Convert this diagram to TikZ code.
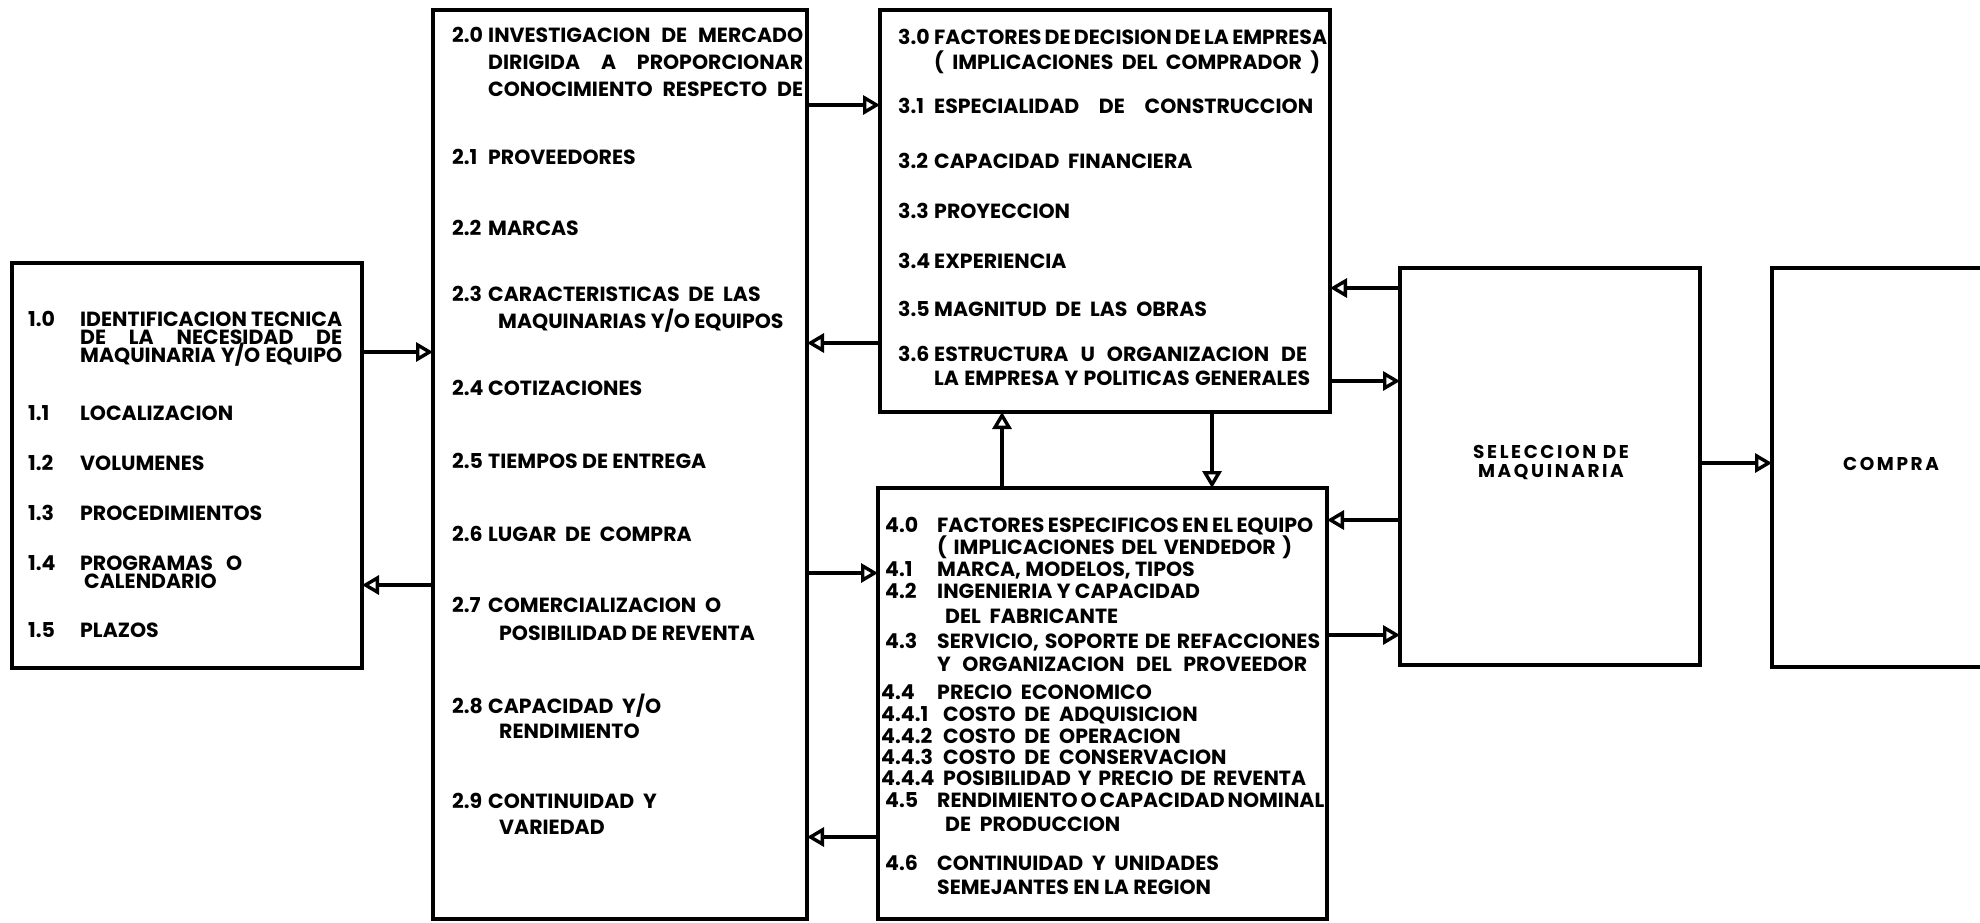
\documentclass[tikz,border=0pt]{standalone}
\usepackage{fontspec}
\setmainfont{Poppins}
\usetikzlibrary{arrows.meta}
\newcommand\justw[2]{\makebox[#1pt][s]{#2}}
\begin{document}
\begin{tikzpicture}[x=1pt,y=-1pt,
  box/.style={draw, line width=4pt, inner sep=0pt, outer sep=0pt},
  lbl/.style={anchor=base west, inner sep=0pt, font=\fontsize{20.5}{22}\selectfont\bfseries},
  ctr/.style={anchor=base, inner sep=0pt, font=\fontsize{18.5}{22}\selectfont\bfseries\addfontfeatures{LetterSpace=14}},
  arr/.style={line width=3.4pt, -{Triangle[open, length=17pt, width=19pt, line width=3.4pt]}}
]
\useasboundingbox (0,0) rectangle (1980,922);
\clip (0,0) rectangle (1980,922);

% boxes
\node[box, minimum width=350pt, minimum height=405pt] (b1) at (187,465.5) {};
\node[box, minimum width=374pt, minimum height=909pt] (b2) at (620,464.5) {};
\node[box, minimum width=450pt, minimum height=402pt] (b3) at (1105,211) {};
\node[box, minimum width=449pt, minimum height=431pt] (b4) at (1102.5,703.5) {};
\node[box, minimum width=300pt, minimum height=397pt] (b5) at (1550,466.5) {};
\node[box, minimum width=268pt, minimum height=399pt] (b6) at (1906,467.5) {};

% box 1 text
\node[lbl] (n10) at (28,326) {1.0};
\node[lbl] (t10) at (80,326) {\justw{262}{IDENTIFICACION TECNICA}};
\node[lbl] (t10b) at (80,344) {\justw{262}{DE LA NECESIDAD DE}};
\node[lbl] (t10c) at (80,362) {\justw{262}{MAQUINARIA Y/O EQUIPO}};
\node[lbl] (n11) at (28,420) {1.1};
\node[lbl] (t11) at (80,420) {LOCALIZACION};
\node[lbl] (n12) at (28,470) {1.2};
\node[lbl] (t12) at (80,470) {VOLUMENES};
\node[lbl] (n13) at (28,520) {1.3};
\node[lbl] (t13) at (80,520) {PROCEDIMIENTOS};
\node[lbl] (n14) at (28,570) {1.4};
\node[lbl] (t14) at (80,570) {PROGRAMAS\ \ \ O};
\node[lbl] (t14b) at (84,588) {CALENDARIO};
\node[lbl] (n15) at (28,637) {1.5};
\node[lbl] (t15) at (80,637) {PLAZOS};

% box 2 text
\node[lbl] (n20) at (452,42) {2.0};
\node[lbl] (t20) at (488,42) {\justw{315}{INVESTIGACION DE MERCADO}};
\node[lbl] (t20b) at (488,69) {\justw{315}{DIRIGIDA A PROPORCIONAR}};
\node[lbl] (t20c) at (488,96) {\justw{315}{CONOCIMIENTO RESPECTO DE}};
\node[lbl] (n21) at (452,164) {2.1};
\node[lbl] (t21) at (488,164) {PROVEEDORES};
\node[lbl] (n22) at (452,235) {2.2};
\node[lbl] (t22) at (488,235) {MARCAS};
\node[lbl] (n23) at (452,301) {2.3};
\node[lbl] (t23) at (488,301) {CARACTERISTICAS\ \ DE\ \ LAS};
\node[lbl] (t23b) at (498,328) {MAQUINARIAS Y/O EQUIPOS};
\node[lbl] (n24) at (452,395) {2.4};
\node[lbl] (t24) at (488,395) {COTIZACIONES};
\node[lbl] (n25) at (452,468) {2.5};
\node[lbl] (t25) at (488,468) {TIEMPOS DE ENTREGA};
\node[lbl] (n26) at (452,541) {2.6};
\node[lbl] (t26) at (488,541) {LUGAR\ \ DE\ \ COMPRA};
\node[lbl] (n27) at (452,612) {2.7};
\node[lbl] (t27) at (488,612) {COMERCIALIZACION\ \ O};
\node[lbl] (t27b) at (499,640) {POSIBILIDAD DE REVENTA};
\node[lbl] (n28) at (452,713) {2.8};
\node[lbl] (t28) at (488,713) {CAPACIDAD\ \ Y/O};
\node[lbl] (t28b) at (499,738) {RENDIMIENTO};
\node[lbl] (n29) at (452,808) {2.9};
\node[lbl] (t29) at (488,808) {CONTINUIDAD\ \ Y};
\node[lbl] (t29b) at (499,834) {VARIEDAD};

% box 3 text
\node[lbl] (n30) at (898,44) {3.0};
\node[lbl] (t30) at (934,44) {\justw{393}{FACTORES DE DECISION DE LA EMPRESA}};
\node[lbl] (t30b) at (934,69) {\justw{386}{( IMPLICACIONES DEL COMPRADOR )}};
\node[lbl] (n31) at (898,113) {3.1};
\node[lbl] (t31) at (934,113) {\justw{379}{ESPECIALIDAD DE CONSTRUCCION}};
\node[lbl] (n32) at (898,168) {3.2};
\node[lbl] (t32) at (934,168) {CAPACIDAD\ \ FINANCIERA};
\node[lbl] (n33) at (898,218) {3.3};
\node[lbl] (t33) at (934,218) {PROYECCION};
\node[lbl] (n34) at (898,268) {3.4};
\node[lbl] (t34) at (934,268) {EXPERIENCIA};
\node[lbl] (n35) at (898,316) {3.5};
\node[lbl] (t35) at (934,316) {MAGNITUD\ \ DE\ \ LAS\ \ OBRAS};
\node[lbl] (n36) at (898,361) {3.6};
\node[lbl] (t36) at (934,361) {\justw{373}{ESTRUCTURA U ORGANIZACION DE}};
\node[lbl] (t36b) at (934,385) {\justw{376}{LA EMPRESA Y POLITICAS GENERALES}};

% box 4 text
\node[lbl] (n40) at (885,532) {4.0};
\node[lbl] (t40) at (937,532) {\justw{376}{FACTORES ESPECIFICOS EN EL EQUIPO}};
\node[lbl] (t40b) at (937,554) {\justw{355}{( IMPLICACIONES DEL VENDEDOR )}};
\node[lbl] (n41) at (885,576) {4.1};
\node[lbl] (t41) at (937,576) {MARCA, MODELOS, TIPOS};
\node[lbl] (n42) at (885,598) {4.2};
\node[lbl] (t42) at (937,598) {INGENIERIA Y CAPACIDAD};
\node[lbl] (t42b) at (945,623) {DEL\ \ FABRICANTE};
\node[lbl] (n43) at (885,648) {4.3};
\node[lbl] (t43) at (937,648) {\justw{383}{SERVICIO, SOPORTE DE REFACCIONES}};
\node[lbl] (t43b) at (937,671) {\justw{370}{Y ORGANIZACION DEL PROVEEDOR}};
\node[lbl] (n44) at (881,699) {4.4};
\node[lbl] (t44) at (937,699) {PRECIO\ \ ECONOMICO};
\node[lbl] (n441) at (881,721) {4.4.1};
\node[lbl] (t441) at (943,721) {COSTO\ \ DE\ \ ADQUISICION};
\node[lbl] (n442) at (881,743) {4.4.2};
\node[lbl] (t442) at (943,743) {COSTO\ \ DE\ \ OPERACION};
\node[lbl] (n443) at (881,764) {4.4.3};
\node[lbl] (t443) at (943,764) {COSTO\ \ DE\ \ CONSERVACION};
\node[lbl] (n444) at (881,785) {4.4.4};
\node[lbl] (t444) at (943,785) {\justw{363}{POSIBILIDAD Y PRECIO DE REVENTA}};
\node[lbl] (n45) at (885,807) {4.5};
\node[lbl] (t45) at (937,807) {\justw{383}{RENDIMIENTO O CAPACIDAD NOMINAL}};
\node[lbl] (t45b) at (945,831) {DE\ \ PRODUCCION};
\node[lbl] (n46) at (885,870) {4.6};
\node[lbl] (t46) at (937,870) {CONTINUIDAD\ \ Y\ \ UNIDADES};
\node[lbl] (t46b) at (937,894) {SEMEJANTES EN LA REGION};

% box 5 and 6 text
\node[ctr] (t5a) at (1551,458) {SELECCION DE};
\node[ctr] (t5b) at (1551,477) {MAQUINARIA};
\node[ctr] (t6) at (1891,470) {COMPRA};

% connectors
\draw[arr] (b1.east |- 0,352) -- (b2.west |- 0,352);
\draw[arr] (b2.west |- 0,585) -- (b1.east |- 0,585);
\draw[arr] (b2.east |- 0,105) -- (b3.west |- 0,105);
\draw[arr] (b3.west |- 0,343) -- (b2.east |- 0,343);
\draw[arr] (b2.east |- 0,573) -- (b4.west |- 0,573);
\draw[arr] (b4.west |- 0,837) -- (b2.east |- 0,837);
\draw[arr] (b4.north -| 1002,0) -- (b3.south -| 1002,0);
\draw[arr] (b3.south -| 1212,0) -- (b4.north -| 1212,0);
\draw[arr] (b5.west |- 0,288) -- (b3.east |- 0,288);
\draw[arr] (b3.east |- 0,381) -- (b5.west |- 0,381);
\draw[arr] (b5.west |- 0,520) -- (b4.east |- 0,520);
\draw[arr] (b4.east |- 0,635) -- (b5.west |- 0,635);
\draw[arr] (b5.east |- 0,463) -- (b6.west |- 0,463);
\end{tikzpicture}
\end{document}
